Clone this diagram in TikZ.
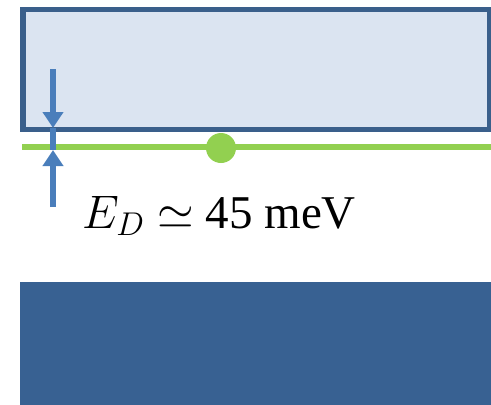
\RequirePackage{fix-cm}
\documentclass[tikz,border=0pt]{standalone}
\usepackage{amsmath, amssymb}
\usepackage{fontspec}
\setmainfont{Liberation Serif}
\usepackage{tikz}
\usepackage{xcolor}
\usetikzlibrary{arrows.meta}

\definecolor{bandedge}{HTML}{3A5F8B}
\definecolor{bandlight}{HTML}{DBE4F1}
\definecolor{banddark}{HTML}{386192}
\definecolor{donor}{HTML}{92D050}
\definecolor{gapblue}{HTML}{4A7EBB}

\begin{document}
\begin{tikzpicture}[x=1pt, y=-1pt]
\tikzstyle{cband} = [draw=bandedge, line width=5.5pt, fill=bandlight]
\tikzstyle{vband} = [fill=banddark]
\tikzstyle{level} = [draw=donor, line width=5.5pt]
\tikzstyle{shaft} = [draw=gapblue, line width=6.5pt]
\tikzstyle{arrow} = [shaft, -{Triangle[length=16pt, width=20pt]}]

\useasboundingbox (0,0) rectangle (491,405);

% bands
\draw [cband] (23,9.5) rectangle (490,129.5);
\fill [vband] (20,282) rectangle (491,405);

% donor level
\coordinate (lvlL) at (22,147);
\coordinate (lvlR) at (491,147);
\draw [level] (lvlL) -- (lvlR);
\node [circle, fill=donor, minimum size=30pt, inner sep=0pt] (dot) at (221,148) {};

% gap arrows
\coordinate (upStart) at (53,69);
\coordinate (upEnd) at (53,128);
\coordinate (loStart) at (53,207);
\coordinate (loEnd) at (53,150);
\draw [shaft] (upEnd) -- (loEnd);
\draw [arrow] (upStart) -- (upEnd);
\draw [arrow] (loStart) -- (loEnd);

\node [anchor=base west, inner sep=0pt] (energy) at (82,228)
  {\fontsize{47}{53}\selectfont $E_D \simeq$ 45 meV};

\end{tikzpicture}
\end{document}
